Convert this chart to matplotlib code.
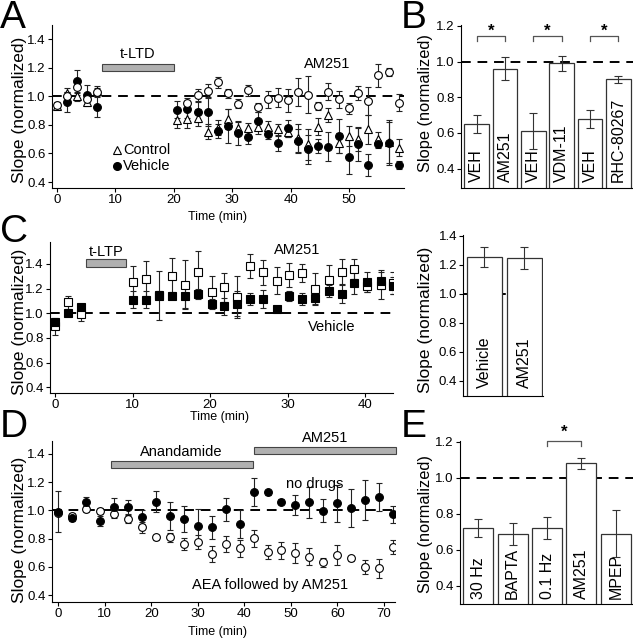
import numpy as np
import matplotlib
matplotlib.use("Agg")
import matplotlib.pyplot as plt

plt.rcParams['font.family'] = ['Liberation Sans', 'DejaVu Sans']
plt.rcParams['font.size'] = 9

nan = np.nan

# ---- panel A data (t-LTD) ----
time_a = [0, 1.7, 3.4, 5.1, 6.8, 20.6, 22.3, 24.1, 25.8, 27.5, 29.3, 31.0, 32.7, 34.4,
          36.1, 37.8, 39.6, 41.3, 43.0, 44.7, 46.4, 48.2, 49.9, 51.6, 53.3, 55.0, 56.8, 58.5]
control_a = [0.93, 1.026, 1.0, 0.963, 1.04, 0.835, 0.84, 0.851, 0.753, 0.781, 0.838, 0.78, 0.776, 0.787,
             0.787, 0.768, 0.752, 0.706, 0.664, 0.787, 0.869, 0.675, 0.722, 0.70, 0.768, 0.70, 0.682, 0.64]
control_a_err = [0.02, 0.03, 0.03, 0.03, 0.03, 0.06, 0.06, 0.06, 0.05, 0.05, 0.07, 0.05, 0.04, 0.05,
                 0.04, 0.04, 0.04, 0.1, 0.11, 0.06, 0.05, 0.07, 0.07, 0.08, 0.1, 0.05, 0.15, 0.06]
vehicle_a = [nan, 0.963, 1.107, 1.009, 0.923, 0.905, 0.909, 0.893, 0.893, 0.758, 0.79, 0.74, 0.717, 0.827,
             0.733, 0.67, 0.776, 0.689, 0.629, 0.654, 0.647, 0.722, 0.577, 0.666, 0.519, 0.666, 0.67, 0.519]
vehicle_a_err = [0, 0.07, 0.08, 0.07, 0.07, 0.06, 0.06, 0.07, 0.1, 0.05, 0.12, 0.08, 0.05, 0.06,
                 0.03, 0.05, 0.06, 0.08, 0.1, 0.05, 0.1, 0.12, 0.12, 0.12, 0.08, 0.03, 0.15, 0.03]
am251_a = [0.94, 1.0, 1.063, 0.98, 1.03, nan, 0.951, 1.009, 1.04, 1.098, 1.022, 0.95, 1.043, 0.922,
           0.98, 0.992, 0.973, 1.032, 1.013, 0.934, 1.032, 0.98, 0.915, 1.025, 0.966, 1.148, 1.171, 0.955]
am251_a_err = [0.02, 0.03, 0.05, 0.03, 0.03, 0, 0.04, 0.04, 0.05, 0.04, 0.03, 0.03, 0.04, 0.03,
               0.06, 0.07, 0.08, 0.1, 0.13, 0.03, 0.06, 0.06, 0.04, 0.05, 0.1, 0.08, 0.03, 0.06]

# ---- panel B data ----
b_labels = ['VEH', 'AM251', 'VEH', 'VDM-11', 'VEH', 'RHC-80267']
b_values = [0.651, 0.96, 0.61, 0.99, 0.68, 0.90]
b_err = [0.05, 0.065, 0.10, 0.04, 0.05, 0.02]
b_pairs = [(0, 1), (2, 3), (4, 5)]

# ---- panel C data (t-LTP) ----
time_c = [0, 1.7, 3.4, 10.1, 11.8, 13.4, 15.1, 16.8, 18.5, 20.2, 21.8, 23.5,
          25.2, 26.9, 28.6, 30.2, 31.9, 33.6, 35.3, 37.0, 38.6, 40.3, 42.0, 43.6]
vehicle_c = [0.926, 1.002, 1.05, 1.11, 1.11, 1.143, 1.143, 1.143, 1.159, 1.078, 1.056, 1.078,
             1.115, 1.115, 1.034, 1.137, 1.115, 1.124, 1.178, 1.156, 1.246, 1.256, 1.264, 1.224]
vehicle_c_err = [0.02, 0.02, 0.02, 0.07, 0.07, 0.2, 0.03, 0.1, 0.04, 0.04, 0.07, 0.1,
                 0.05, 0.07, 0.01, 0.04, 0.05, 0.05, 0.05, 0.07, 0.09, 0.08, 0.07, 0.07]
am251_c = [0.893, 1.088, 0.996, 1.25, 1.28, 1.15, 1.305, 1.232, 1.338, 1.172, 1.21, 1.13,
           1.384, 1.332, 1.264, 1.31, 1.327, 1.197, 1.273, 1.338, 1.36, 1.224, 1.232, 1.245]
am251_c_err = [0.07, 0.05, 0.06, 0.13, 0.14, 0.03, 0.14, 0.2, 0.17, 0.13, 0.12, 0.17,
               0.1, 0.1, 0.11, 0.1, 0.07, 0.13, 0.12, 0.1, 0.08, 0.05, 0.12, 0.09]

c_labels = ['Vehicle', 'AM251']
c_values = [1.256, 1.247]
c_err = [0.069, 0.074]

# ---- panel D data (anandamide) ----
time_d = [0, 3, 6, 9, 12, 15, 18, 21, 24, 27, 30, 33, 36, 39, 42, 45, 48, 51, 54, 57, 60, 63, 66, 69, 72]
nodrug_d = [0.991, 0.944, 1.062, 0.925, 1.026, 1.026, 0.951, 1.062, 0.960, 0.939, 0.892, 0.880, 1.008,
            0.901, 1.128, 1.128, 1.062, 1.038, 1.057, 0.998, 1.05, 1.015, 1.074, 1.097, 0.972]
nodrug_d_err = [0.145, 0.02, 0.03, 0.035, 0.06, 0.05, 0.05, 0.075, 0.1, 0.09, 0.12, 0.08, 0.08,
                0.1, 0.1, 0.02, 0.02, 0.07, 0.11, 0.08, 0.13, 0.135, 0.14, 0.1, 0.06]
aea_d = [0.984, 0.96, 1.01, 0.996, 0.974, 0.939, 0.88, 0.809, 0.809, 0.762, 0.778, 0.691, 0.762,
         0.731, 0.802, 0.707, 0.719, 0.696, 0.672, 0.632, 0.684, 0.66, 0.60, 0.589, 0.743]
aea_d_err = [0.02, 0.02, 0.02, 0.02, 0.03, 0.03, 0.04, 0.02, 0.03, 0.04, 0.05, 0.06, 0.06,
             0.06, 0.06, 0.05, 0.06, 0.07, 0.06, 0.03, 0.07, 0.02, 0.05, 0.065, 0.05]

# ---- panel E data ----
e_labels = ['30 Hz', 'BAPTA', '0.1 Hz', 'AM251', 'MPEP']
e_values = [0.72, 0.689, 0.72, 1.079, 0.689]
e_err = [0.05, 0.06, 0.06, 0.032, 0.13]


W, H = 633, 640
fig = plt.figure(figsize=(W / 100, H / 100), dpi=100)

YLAB = 12.5
ANN = 10.5
TICK = 9.5


def make_ax(x0, x1, ytop, ybot):
    return fig.add_axes([x0 / W, 1 - ybot / H, (x1 - x0) / W, (ybot - ytop) / H])


def style(ax):
    for s in ['top', 'right']:
        ax.spines[s].set_visible(False)
    ax.spines['left'].set_linewidth(0.8)
    ax.spines['bottom'].set_linewidth(0.8)
    ax.tick_params(direction='out', length=3, width=0.8, pad=1.5, labelsize=TICK)


def dashed(ax):
    ax.axhline(1.0, color='black', lw=1.4, ls=(0, (5, 3.5)), zorder=1)


def eb(ax, x, y, e, marker, face, ms=5.6):
    ax.errorbar(x, y, yerr=e, fmt=marker, mfc=face, mec='black', mew=0.8, ms=ms,
                ecolor='#222222', elinewidth=0.8, capsize=2, capthick=0.8, zorder=3)


def bars(ax, labels, values, err, label_y, width):
    pos = np.arange(len(values))
    ax.bar(pos, values, width=width, color='white', edgecolor='#333333', lw=0.9, zorder=2)
    ax.errorbar(pos, values, yerr=err, fmt='none', ecolor='#333333', elinewidth=0.8,
                capsize=3, capthick=0.8, zorder=3)
    for p, lab in zip(pos, labels):
        ax.text(p, label_y, lab, rotation=90, ha='center', va='bottom', fontsize=11.5, zorder=4)
    ax.set_xticks([])
    return pos


def bracket(ax, i, j, ytop, ylow, ystar):
    ax.plot([i, i, j, j], [ylow, ytop, ytop, ylow], color='#555555', lw=0.9, clip_on=False)
    ax.text((i + j) / 2, ystar, '*', ha='center', va='center', fontsize=12, fontweight='bold')


# ===== A =====
ax = make_ax(52, 404, 25, 188)
style(ax)
ax.set_xlim(-0.86, 59.4)
ax.set_ylim(0.358, 1.5)
dashed(ax)
eb(ax, time_a, control_a, control_a_err, '^', 'white')
eb(ax, time_a, vehicle_a, vehicle_a_err, 'o', 'black')
eb(ax, time_a, am251_a, am251_a_err, 'o', 'white')
ax.set_xticks([0, 10, 20, 30, 40, 50])
ax.set_yticks([0.4, 0.6, 0.8, 1.0, 1.2, 1.4])
ax.add_patch(plt.Rectangle((7.65, 1.176), 12.35, 0.05, facecolor='#b0b0b0', edgecolor='#444444', lw=0.8))
ax.text(13.8, 1.3, 't-LTD', ha='center', va='center', fontsize=ANN)
ax.text(46.2, 1.225, 'AM251', ha='center', va='center', fontsize=ANN)
ax.plot([10.2], [0.625], marker='^', mfc='white', mec='black', ms=5.5, mew=0.8)
ax.text(11.3, 0.625, 'Control', va='center', fontsize=ANN)
ax.plot([10.2], [0.512], marker='o', mfc='black', mec='black', ms=5.5)
ax.text(11.3, 0.512, 'Vehicle', va='center', fontsize=ANN)
ax.set_ylabel('Slope (normalized)', fontsize=YLAB)
ax.yaxis.set_label_coords(-0.071, 0.478)
ax.set_xlabel('Time (min)', fontsize=9)
ax.xaxis.set_label_coords(0.47, -0.141)

# ===== B =====
ax = make_ax(460.7, 633, 25, 188.3)
style(ax)
ax.set_ylim(0.29, 1.205)
ax.set_xlim(-0.565, 5.52)
dashed(ax)
bars(ax, b_labels, b_values, b_err, 0.325, 0.88)
for i, j in b_pairs:
    bracket(ax, i, j, 1.144, 1.113, 1.17)
ax.set_yticks([0.4, 0.6, 0.8, 1.0, 1.2])
ax.set_ylabel('Slope (normalized)', fontsize=11.8)
ax.yaxis.set_label_coords(-0.161, 0.52)

# ===== C =====
ax = make_ax(50, 393.3, 241.7, 392.7)
style(ax)
ax.set_xlim(-0.65, 43.65)
ax.set_ylim(0.356, 1.58)
dashed(ax)
eb(ax, time_c, am251_c, am251_c_err, 's', 'white')
eb(ax, time_c, vehicle_c, vehicle_c_err, 's', 'black')
ax.set_xticks([0, 10, 20, 30, 40])
ax.set_yticks([0.4, 0.6, 0.8, 1.0, 1.2, 1.4])
ax.add_patch(plt.Rectangle((4.0, 1.376), 5.1, 0.06, facecolor='#b0b0b0', edgecolor='#444444', lw=0.8))
ax.text(6.6, 1.5, 't-LTP', ha='center', va='center', fontsize=ANN)
ax.text(31.2, 1.51, 'AM251', ha='center', va='center', fontsize=ANN)
ax.text(35.7, 0.89, 'Vehicle', ha='center', va='center', fontsize=ANN)
ax.set_ylabel('Slope (normalized)', fontsize=YLAB)
ax.yaxis.set_label_coords(-0.067, 0.468)
ax.set_xlabel('Time (min)', fontsize=9)
ax.xaxis.set_label_coords(0.495, -0.124)

# ===== C right =====
ax = make_ax(463.3, 543.3, 235, 396)
style(ax)
ax.set_ylim(0.295, 1.405)
ax.set_xlim(-0.52, 1.47)
dashed(ax)
bars(ax, c_labels, c_values, c_err, 0.35, 0.87)
ax.set_yticks([0.4, 0.6, 0.8, 1.0, 1.2, 1.4])
ax.set_ylabel('Slope (normalized)', fontsize=YLAB)
ax.yaxis.set_label_coords(-0.379, 0.472)

# ===== D =====
ax = make_ax(51.7, 395, 440.7, 601.7)
style(ax)
ax.set_xlim(-1.4, 72.4)
ax.set_ylim(0.353, 1.494)
dashed(ax)
eb(ax, time_d, aea_d, aea_d_err, 'o', 'white')
eb(ax, time_d, nodrug_d, nodrug_d_err, 'o', 'black')
ax.set_xticks([0, 10, 20, 30, 40, 50, 60, 70])
ax.set_yticks([0.4, 0.6, 0.8, 1.0, 1.2, 1.4])
ax.add_patch(plt.Rectangle((11.3, 1.299), 30.5, 0.049, facecolor='#b0b0b0', edgecolor='#444444', lw=0.8))
ax.add_patch(plt.Rectangle((42.1, 1.40), 30.5, 0.047, facecolor='#b0b0b0', edgecolor='#444444', lw=0.8,
                           clip_on=False))
ax.text(26.5, 1.416, 'Anandamide', ha='center', va='center', fontsize=ANN)
ax.text(57.3, 1.51, 'AM251', ha='center', va='center', fontsize=ANN, clip_on=False)
ax.text(55.1, 1.19, 'no drugs', ha='center', va='center', fontsize=ANN)
ax.text(45.5, 0.47, 'AEA followed by AM251', ha='center', va='center', fontsize=ANN)
ax.set_ylabel('Slope (normalized)', fontsize=YLAB)
ax.yaxis.set_label_coords(-0.072, 0.445)
ax.set_xlabel('Time (min)', fontsize=9)
ax.xaxis.set_label_coords(0.484, -0.148)

# ===== E =====
ax = make_ax(460, 633, 440.7, 604)
style(ax)
ax.set_ylim(0.299, 1.205)
ax.set_xlim(-0.53, 4.5)
dashed(ax)
bars(ax, e_labels, e_values, e_err, 0.325, 0.875)
bracket(ax, 2, 3, 1.204, 1.176, 1.25)
ax.set_yticks([0.4, 0.6, 0.8, 1.0, 1.2])
ax.set_ylabel('Slope (normalized)', fontsize=11.8)
ax.yaxis.set_label_coords(-0.156, 0.49)

# panel letters
for lx, ly, letter in [(0, 0, 'A'), (401, 0, 'B'), (0, 214, 'C'), (0, 409, 'D'), (401, 409, 'E')]:
    fig.text(lx / W, 1 - ly / H, letter, fontsize=28, va='top', ha='left')

fig.savefig('out.png', dpi=100)
